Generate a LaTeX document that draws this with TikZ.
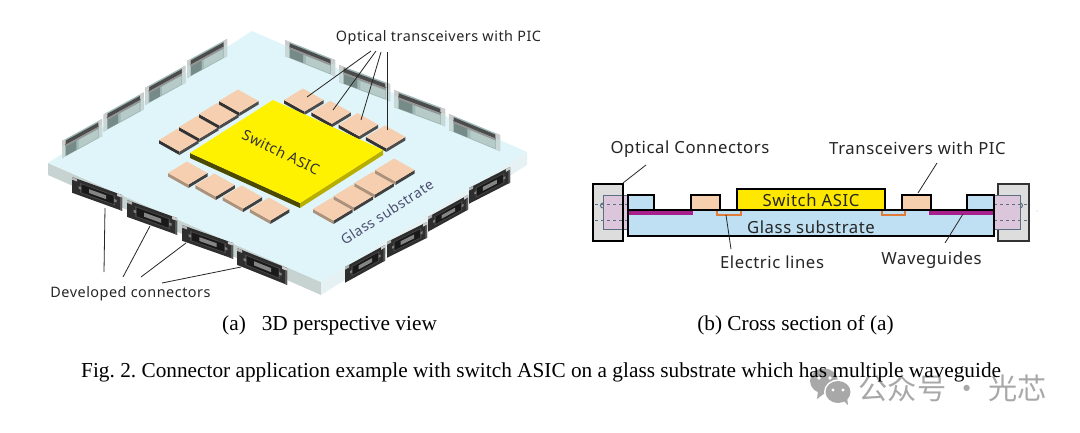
\documentclass[tikz,border=0pt]{standalone}
\usepackage{fontspec}
\setmainfont{Liberation Serif}
\newfontfamily\lab[LetterSpace=3.5]{Noto Sans}
\newfontfamily\cjkw{Noto Sans CJK SC}
\usetikzlibrary{calc}
\definecolor{plate}{HTML}{E0F5F9}
\definecolor{plateL}{HTML}{C6D3D1}
\definecolor{plateR}{HTML}{E6F1F3}
\definecolor{chip}{HTML}{F5CFB0}
\definecolor{asic}{HTML}{FFF200}
\definecolor{glass}{HTML}{BFE0F2}
\definecolor{peach}{HTML}{F6CFAF}
\definecolor{ayel}{HTML}{FFE800}
\definecolor{orng}{HTML}{E07B39}
\definecolor{wg}{HTML}{A8208C}
\definecolor{cgray}{HTML}{DDDDDD}
\definecolor{ferr}{HTML}{DCC6DC}
\definecolor{fline}{HTML}{5A6F80}
\definecolor{body}{HTML}{9DB8B6}
\definecolor{wm}{HTML}{A8A8A8}
\definecolor{txt}{HTML}{262626}
\newcommand\frameat[7]{\begin{scope}[shift={(#1,#2)},x={({(#3)*1pt},{-(#4)*1pt})},y={({(#5)*1pt},{-(#6)*1pt})}]#7\end{scope}}
% filled quad in the current (skewed) frame
\newcommand\qd[5]{\fill[#1] (#2,#3) -- (#4,#3) -- (#4,#5) -- (#2,#5) -- cycle;}
\newcommand\chipb[4]{%
 \fill[#3] ($(#1,#2)$) -- ($(#1,#2)+(20.5,11.5)$) -- ($(#1,#2)+(20.5,15)$) -- ($(#1,#2)+(0,3.5)$) -- cycle;
 \fill[#4] ($(#1,#2)+(20.5,11.5)$) -- ($(#1,#2)+(39.5,0)$) -- ($(#1,#2)+(39.5,3.5)$) -- ($(#1,#2)+(20.5,15)$) -- cycle;
 \fill[chip] (#1,#2) -- ++(19,-11.5) -- ++(20.5,11.5) -- ++(-19,11.5) -- cycle;
}
% back connector: top-left x y, u vector, v vector
\newcommand\backconn[6]{\frameat{#1}{#2}{#3}{#4}{#5}{#6}{%
  \qd{body}{0}{0}{1}{1.08}
  \qd{body!75!black}{0.1}{0.45}{0.36}{1.05}
  \qd{body!75!white}{0.42}{0.5}{0.9}{1.02}
  \qd{black!70}{0.06}{0.1}{0.94}{0.36}
  \qd{black!42}{0.06}{0.36}{0.94}{0.48}
  \qd{black!20}{0}{0}{0.09}{0.3}
  \qd{black!20}{0.91}{0}{1}{0.3}
  \qd{body!55!white}{0}{0.3}{0.08}{1.08}
  \qd{body!55!white}{0.92}{0.3}{1}{1.08}
}}
% front connector
\newcommand\frontconn[6]{\frameat{#1}{#2}{#3}{#4}{#5}{#6}{%
  \qd{black!82}{0}{0}{1}{1.05}
  \qd{black!30}{0}{0}{0.1}{0.18}
  \qd{black!20}{0.9}{0}{1}{0.18}
  \qd{black!65}{0.96}{0.18}{1}{1.05}
  \qd{black!72}{0.16}{0.2}{0.86}{0.86}
  \qd{black!90}{0.19}{0.26}{0.83}{0.8}
  \qd{black!48}{0.34}{0.4}{0.68}{0.66}
  \qd{black!50}{0.13}{0.46}{0.18}{0.62}
  \qd{black!50}{0.84}{0.46}{0.89}{0.62}
}}
\tikzset{
 lead/.style={draw=black!85,line width=0.8pt},
 lbl/.style={font=\lab\fontsize{14.4}{16}\selectfont,text=txt,inner sep=0pt},
 lblb/.style={font=\lab\fontsize{16.7}{19}\selectfont,text=txt,inner sep=0pt},
 captxt/.style={font=\frenchspacing\fontsize{21.3}{24}\selectfont,text=black,inner sep=0pt},
 sect/.style={draw=black,line width=1.4pt},
}
\begin{document}
\begin{tikzpicture}[x=1pt,y=-1pt]
\useasboundingbox (0,0) rectangle (1080,432);
\fill[white] (0,0) rectangle (1080,432);
% ---------- plate
\fill[plateL] (48,163) -- (321,282) -- (321,295) -- (48,175) -- cycle;
\fill[plateR] (321,282) -- (527,152) -- (527,165) -- (321,295) -- cycle;
\fill[plate] (252,31) -- (527,152) -- (321,282) -- (48,163) -- cycle;
% ---------- back-left connectors
\foreach \i in {0,1,2,3}{
 \pgfmathsetmacro\xx{62+41.7*\i}\pgfmathsetmacro\yy{141-26.7*\i}
 \backconn{\xx}{\yy}{40}{-22}{0}{16}
}
% ---------- back-right connectors
\backconn{285}{40}{50}{20}{0}{15}
\backconn{339}{65}{51}{19}{0}{16}
\backconn{394}{90}{51}{19}{0}{16}
\backconn{449}{114}{51}{21}{0}{15}
% ---------- chips
\foreach \i in {0,1,2,3}{
 \pgfmathsetmacro\xx{159+20*\i}\pgfmathsetmacro\yy{140-13*\i}
 \chipb{\xx}{\yy}{black!80}{black!70}
}
\foreach \i in {0,1,2,3}{
 \pgfmathsetmacro\xx{284+27.3*\i}\pgfmathsetmacro\yy{100+12.3*\i}
 \chipb{\xx}{\yy}{black!80}{black!70}
}
\foreach \i in {0,1,2,3}{
 \pgfmathsetmacro\xx{168+27.3*\i}\pgfmathsetmacro\yy{173+12*\i}
 \chipb{\xx}{\yy}{chip!70!black}{black!75}
}
\foreach \i in {0,1,2,3}{
 \pgfmathsetmacro\xx{313+20.7*\i}\pgfmathsetmacro\yy{209-13*\i}
 \chipb{\xx}{\yy}{chip!70!black}{black!75}
}
% ---------- ASIC
\fill[black!70!asic] (190,153) -- (300,203) -- (300,208) -- (190,158) -- cycle;
\fill[asic!72!black] (300,203) -- (383,150) -- (383,155) -- (300,208) -- cycle;
\fill[asic] (190,153) -- (273,100) -- (383,150) -- (300,203) -- cycle;
\node[lbl,text=black!80,rotate=-26,font=\lab\fontsize{14.5}{16}\selectfont] (sw3d) at (281,152) {Switch ASIC};
\node[lbl,text=black!65!blue!40!gray,rotate=33,font=\lab\fontsize{14}{16}\selectfont] (gl3d) at (387,212) {Glass substrate};
% ---------- front connectors
\frontconn{72}{177}{50}{18}{0}{15}
\frontconn{127}{200}{50}{18}{0}{16}
\frontconn{182}{225}{51}{18}{0}{15}
\frontconn{237}{248}{50}{20}{0}{16}
\frontconn{345}{267}{40}{-22}{0}{15}
\frontconn{387}{242}{40}{-20}{0}{15}
\frontconn{428}{217}{40}{-22}{0}{14}
\frontconn{469}{188}{41}{-21}{0}{15}
% ---------- 3D labels and leaders
\node[lbl] (opt) at (438.5,38) {Optical transceivers with PIC};
\node[lbl] (dev) at (130.5,294) {Developed connectors};
\coordinate (o1s) at (371,51); \coordinate (o1e) at (307,97);
\coordinate (o2s) at (376,51); \coordinate (o2e) at (333,110);
\coordinate (o3s) at (381,52); \coordinate (o3e) at (361,120);
\coordinate (o4s) at (387,52); \coordinate (o4e) at (387,130);
\foreach \n in {1,2,3,4}{\draw[lead] (o\n s) -- (o\n e);}
\coordinate (d1s) at (104,272); \coordinate (d1e) at (105,208);
\coordinate (d2s) at (123,277); \coordinate (d2e) at (150,226);
\coordinate (d3s) at (141,277); \coordinate (d3e) at (186,243);
\coordinate (d4s) at (162,283); \coordinate (d4e) at (241,267);
\foreach \n in {1,2,3,4}{\draw[lead] (d\n s) -- (d\n e);}
% ---------- cross section
\fill[glass] (628,210) rectangle (994,236);
\draw[sect,fill=glass] (628,195) rectangle (654,210);
\draw[sect,fill=glass] (967,195) rectangle (994,210);
\draw[sect,fill=peach] (691,195) rectangle (720,210);
\draw[sect,fill=peach] (902,195) rectangle (931,210);
\draw[sect,fill=ayel] (737,189) rectangle (885,210);
\draw[sect] (628,210) rectangle (994,236);
\fill[wg] (628,210.5) rectangle (693,214.5);
\fill[wg] (929,210.5) rectangle (994,214.5);
\draw[orng,line width=2pt] (717,211) -- (717,215) -- (741,215) -- (741,211);
\draw[orng,line width=2pt] (882,211) -- (882,215) -- (905,215) -- (905,211);
% left optical connector
\draw[sect,fill=cgray] (593,184) rectangle (623,241);
\fill[ferr] (603,195) rectangle (628,229);
\draw[fline,line width=1pt] (628,195) -- (603,195) -- (603,229) -- (628,229);
\draw[fline,line width=1pt] (603,208) arc[start angle=90,end angle=270,radius=2.5];
\draw[fline,line width=1pt,dashed] (595,204) -- (628,204);
\draw[fline,line width=1pt,dashed] (595,220) -- (628,220);
\draw[black,line width=1.4pt] (623,184) -- (623,241);
\draw[black,line width=1.4pt] (628,195) -- (628,236);
% right optical connector
\draw[black!80,line width=1.4pt,fill=cgray] (998,184) rectangle (1029,241);
\fill[ferr] (994,195) rectangle (1020,229);
\draw[fline,line width=1pt] (994,195) -- (1020,195) -- (1020,229) -- (994,229);
\draw[fline,line width=1pt] (1020,208) arc[start angle=90,end angle=-90,radius=2.5];
\draw[fline,line width=1pt,dashed] (994,204) -- (1027,204);
\draw[fline,line width=1pt,dashed] (994,220) -- (1027,220);
\draw[black,line width=1.4pt] (994,195) -- (994,236);
\fill[black!35] (1037,211) circle (0.5);
% section labels
\node[lblb] (sw2d) at (811,200) {Switch ASIC};
\node[lblb] (gl2d) at (811,227) {Glass substrate};
\node[lblb] (oc) at (690,149) {Optical Connectors};
\node[lblb] (tp) at (917.5,148) {Transceivers with PIC};
\node[lblb] (el) at (772,262) {Electric lines};
\node[lblb] (wv) at (931.5,260) {Waveguides};
\coordinate (a1) at (646,165); \coordinate (a2) at (623,183);
\coordinate (b1) at (937,163); \coordinate (b2) at (918,193);
\coordinate (c1) at (731,249); \coordinate (c2) at (726,215);
\coordinate (e1) at (945,243); \coordinate (e2) at (963,214);
\draw[lead] (a1) -- (a2);
\draw[lead] (b1) -- (b2);
\draw[lead] (c1) -- (c2);
\draw[lead] (e1) -- (e2);
% ---------- watermark
\fill[wm] (824,381) ellipse[x radius=14,y radius=12.5];
\fill[wm] (818,391) -- (817,399) -- (825,393) -- cycle;
\fill[white] (819,378) circle (1.8);
\fill[white] (830,378) circle (1.8);
\fill[white] (838,392) ellipse[x radius=14,y radius=12.5];
\fill[wm] (838,392) ellipse[x radius=12.5,y radius=11];
\fill[wm] (843,400) -- (848,405) -- (847,397) -- cycle;
\fill[white] (833,390) circle (1.6);
\fill[white] (843,390) circle (1.6);
\node[inner sep=0pt,anchor=west,text=wm,font=\cjkw\fontsize{29.2}{32}\selectfont] (wmk) at (858.5,388.5) {公众号 · 光芯};
% ---------- captions
\node[captxt,anchor=west] (capa) at (222,325.5) {(a)\hspace{0.75em}3D perspective view};
\node[captxt] (capb) at (795.5,325.5) {(b) Cross section of (a)};
\node[captxt,anchor=west] (fig) at (81,372) {Fig. 2. Connector application example with switch ASIC on a glass substrate which has multiple waveguide};
\end{tikzpicture}
\end{document}
